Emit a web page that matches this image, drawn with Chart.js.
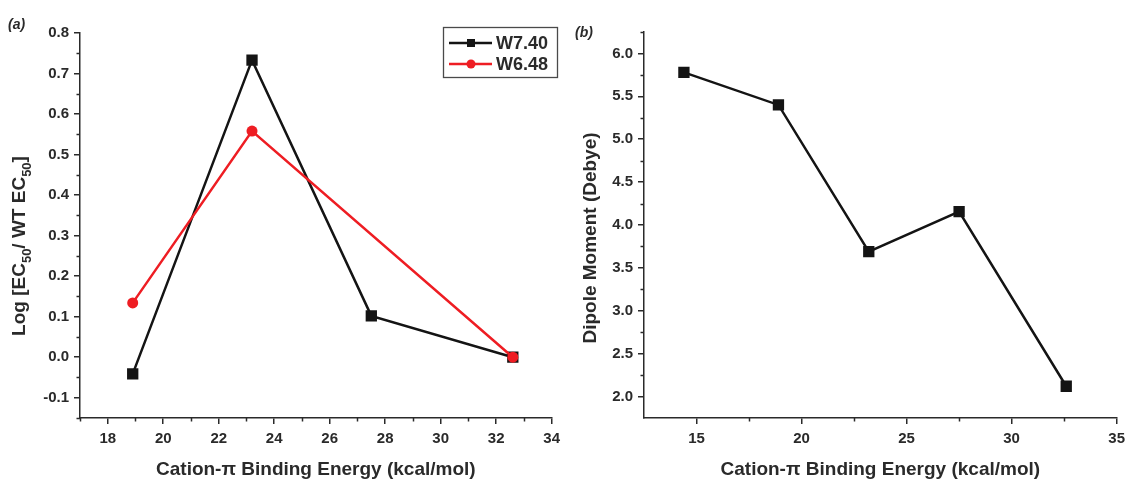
<!DOCTYPE html>
<html>
<head>
<meta charset="utf-8">
<script src="https://cdn.jsdelivr.net/npm/chart.js@4.4.0/dist/chart.umd.min.js"></script>
<style>
html, body { margin: 0; padding: 0; background: #fff; }
#wrap { position: relative; width: 1131px; height: 479px; }
.painel { position: absolute; top: 0; height: 479px; }
#painelA { left: 0; width: 566px; }
#painelB { left: 566px; width: 565px; }
</style>
</head>
<body>
<div id="wrap">
  <div class="painel" id="painelA"><canvas id="graficoA"></canvas></div>
  <div class="painel" id="painelB"><canvas id="graficoB"></canvas></div>
</div>
<script>
// Dados do painel (a)
const energiaW740 = [18.9, 23.2, 27.5, 32.6];
const valoresW740 = [-0.041, 0.733, 0.102, 0.0];
const energiaW648 = [18.9, 23.2, 32.6];
const valoresW648 = [0.134, 0.558, 0.0];

// Dados do painel (b)
const energiaDipolo = [14.4, 18.9, 23.2, 27.5, 32.6];
const valoresDipolo = [5.78, 5.40, 3.69, 4.155, 2.12];

// Marcas dos eixos
const ticksXa = [18, 20, 22, 24, 26, 28, 30, 32, 34];
const ticksYa = [-0.1, 0.0, 0.1, 0.2, 0.3, 0.4, 0.5, 0.6, 0.7, 0.8];
const menoresXa = [17, 19, 21, 23, 25, 27, 29, 31, 33];
const menoresYa = [-0.15, -0.05, 0.05, 0.15, 0.25, 0.35, 0.45, 0.55, 0.65, 0.75];
const ticksXb = [15, 20, 25, 30, 35];
const ticksYb = [2.0, 2.5, 3.0, 3.5, 4.0, 4.5, 5.0, 5.5, 6.0];
const menoresXb = [17.5, 22.5, 27.5, 32.5];
const menoresYb = [2.25, 2.75, 3.25, 3.75, 4.25, 4.75, 5.25, 5.75, 6.25];

const PRETO = '#141414';
const VERMELHO = '#ee1d23';
const EIXO = '#2a2a2a';
const FONTE = "'Liberation Sans', Arial, sans-serif";

Chart.defaults.font.family = FONTE;
Chart.defaults.color = EIXO;

function pontos(xs, ys) {
    return xs.map((x, i) => ({ x: x, y: ys[i] }));
}

// marcas menores (o Chart.js nao tem isso pronto)
const marcasMenores = {
    id: 'marcasMenores',
    afterDraw(chart, args, opts) {
        const ctx = chart.ctx;
        const sx = chart.scales.x;
        const sy = chart.scales.y;
        ctx.save();
        ctx.strokeStyle = EIXO;
        ctx.lineWidth = 1.5;
        opts.x.forEach(v => {
            const px = Math.round(sx.getPixelForValue(v)) + 0.5;
            ctx.beginPath();
            ctx.moveTo(px, sx.top);
            ctx.lineTo(px, sx.top + 3.5);
            ctx.stroke();
        });
        opts.y.forEach(v => {
            const py = Math.round(sy.getPixelForValue(v)) + 0.5;
            ctx.beginPath();
            ctx.moveTo(sy.right, py);
            ctx.lineTo(sy.right - 3.5, py);
            ctx.stroke();
        });
        ctx.restore();
    }
};

// titulo do eixo Y (com subscrito) e letra do painel
const textosExtras = {
    id: 'textosExtras',
    afterDraw(chart, args, opts) {
        const ctx = chart.ctx;
        ctx.save();
        ctx.fillStyle = EIXO;
        ctx.font = 'italic bold 14px ' + FONTE;
        ctx.textBaseline = 'alphabetic';
        ctx.textAlign = 'left';
        ctx.fillText(opts.letra, opts.letraX, opts.letraY);

        const normal = 'bold 19px ' + FONTE;
        const pequena = 'bold 13px ' + FONTE;
        let total = 0;
        opts.partes.forEach(p => {
            ctx.font = p.sub ? pequena : normal;
            total += ctx.measureText(p.t).width;
        });
        ctx.translate(opts.tituloX, opts.tituloY);
        ctx.rotate(-Math.PI / 2);
        ctx.textBaseline = 'middle';
        let pos = -total / 2;
        opts.partes.forEach(p => {
            ctx.font = p.sub ? pequena : normal;
            ctx.fillText(p.t, pos, p.sub ? 7 : 0);
            pos += ctx.measureText(p.t).width;
        });
        ctx.restore();
    }
};

const legendaA = {
    id: 'legendaA',
    afterDraw(chart) {
        const ctx = chart.ctx;
        ctx.save();
        ctx.strokeStyle = '#4a4a4a';
        ctx.lineWidth = 1.3;
        ctx.strokeRect(443.5, 27.5, 114, 50);
        chart.data.datasets.forEach((ds, i) => {
            const yy = 43 + i * 21;
            ctx.strokeStyle = ds.borderColor;
            ctx.fillStyle = ds.borderColor;
            ctx.lineWidth = 2.5;
            ctx.beginPath();
            ctx.moveTo(449, yy);
            ctx.lineTo(492, yy);
            ctx.stroke();
            if (ds.pointStyle === 'rect') {
                ctx.fillRect(467, yy - 4, 8, 8);
            } else {
                ctx.beginPath();
                ctx.arc(471, yy, 4.5, 0, Math.PI * 2);
                ctx.fill();
            }
            ctx.fillStyle = EIXO;
            ctx.font = 'bold 18px ' + FONTE;
            ctx.textBaseline = 'middle';
            ctx.fillText(ds.label, 496, yy + 1);
        });
        ctx.restore();
    }
};

function eixo(min, max, marcas, casas, largura, altura, titulo) {
    return {
        type: 'linear',
        min: min,
        max: max,
        afterBuildTicks: s => { s.ticks = marcas.map(v => ({ value: v })); },
        afterFit: s => {
            if (largura) s.width = largura;
            if (altura) s.height = altura;
        },
        grid: { drawOnChartArea: false, color: EIXO, lineWidth: 1.5, tickLength: 6 },
        border: { color: EIXO, width: 1.5 },
        ticks: {
            color: EIXO,
            font: { size: 15, weight: 'bold' },
            padding: largura ? 5 : 6,
            autoSkip: false,
            maxRotation: 0,
            callback: v => v.toFixed(casas)
        },
        title: titulo ? {
            display: true,
            text: titulo,
            color: EIXO,
            font: { size: 19, weight: 'bold', lineHeight: 1 },
            padding: { top: 0, bottom: 0 }
        } : { display: false }
    };
}

new Chart(document.getElementById('graficoA'), {
    type: 'line',
    data: {
        datasets: [{
            label: 'W7.40',
            data: pontos(energiaW740, valoresW740),
            borderColor: PRETO,
            backgroundColor: PRETO,
            borderWidth: 2.5,
            pointStyle: 'rect',
            pointRadius: 8,
            pointBorderWidth: 0,
            order: 2
        }, {
            label: 'W6.48',
            data: pontos(energiaW648, valoresW648),
            borderColor: VERMELHO,
            backgroundColor: VERMELHO,
            borderWidth: 2.5,
            pointStyle: 'circle',
            pointRadius: 5.5,
            pointBorderWidth: 0,
            order: 1
        }]
    },
    options: {
        responsive: true,
        maintainAspectRatio: false,
        animation: false,
        layout: { padding: { top: 33, right: 14, left: 0, bottom: 0 } },
        scales: {
            x: eixo(17, 34, ticksXa, 0, null, 61, 'Cation-\u03c0 Binding Energy (kcal/mol)'),
            y: eixo(-0.15, 0.8, ticksYa, 1, 80, null, null)
        },
        plugins: {
            legend: { display: false },
            tooltip: { enabled: false },
            marcasMenores: { x: menoresXa, y: menoresYa },
            textosExtras: {
                letra: '(a)', letraX: 8, letraY: 29,
                tituloX: 20, tituloY: 246,
                partes: [{ t: 'Log [EC' }, { t: '50', sub: true }, { t: '/ WT EC' }, { t: '50', sub: true }, { t: ']' }]
            }
        }
    },
    plugins: [marcasMenores, textosExtras, legendaA]
});

new Chart(document.getElementById('graficoB'), {
    type: 'line',
    data: {
        datasets: [{
            label: 'Dipolo',
            data: pontos(energiaDipolo, valoresDipolo),
            borderColor: PRETO,
            backgroundColor: PRETO,
            borderWidth: 2.5,
            pointStyle: 'rect',
            pointRadius: 8,
            pointBorderWidth: 0
        }]
    },
    options: {
        responsive: true,
        maintainAspectRatio: false,
        animation: false,
        layout: { padding: { top: 32, right: 11, left: 0, bottom: 0 } },
        scales: {
            x: eixo(12.5, 35, ticksXb, 0, null, 61, 'Cation-\u03c0 Binding Energy (kcal/mol)'),
            y: eixo(1.75, 6.25, ticksYb, 1, 78, null, null)
        },
        plugins: {
            legend: { display: false },
            tooltip: { enabled: false },
            marcasMenores: { x: menoresXb, y: menoresYb },
            textosExtras: {
                letra: '(b)', letraX: 9, letraY: 37,
                tituloX: 25, tituloY: 238,
                partes: [{ t: 'Dipole Moment (Debye)' }]
            }
        }
    },
    plugins: [marcasMenores, textosExtras]
});
</script>
</body>
</html>
